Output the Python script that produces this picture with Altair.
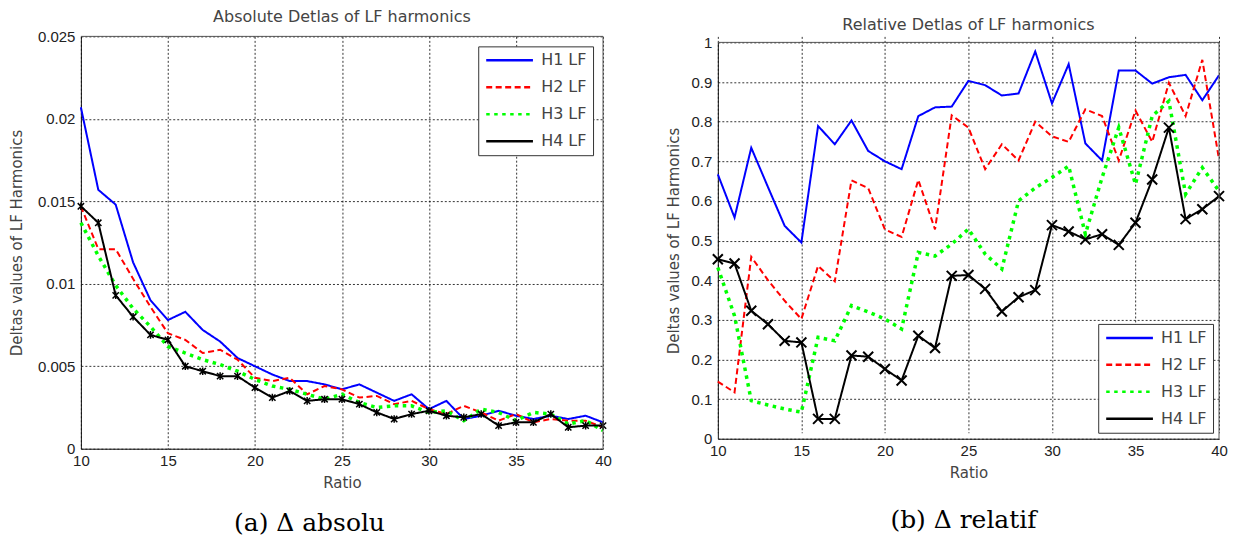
import altair as alt
import pandas as pd

ratio = [10, 11, 12, 13, 14, 15, 16, 17, 18, 19, 20, 21, 22, 23, 24, 25,
         26, 27, 28, 29, 30, 31, 32, 33, 34, 35, 36, 37, 38, 39, 40]
series_names = ["H1 LF", "H2 LF", "H3 LF", "H4 LF"]

abs_h1 = [0.0207, 0.0157, 0.0148, 0.0113, 0.0090, 0.0078, 0.0083, 0.0072, 0.0065, 0.0055,
          0.0050, 0.0045, 0.0041, 0.0041, 0.0039, 0.0036, 0.0039, 0.0034, 0.0029, 0.0033,
          0.0024, 0.0029, 0.0018, 0.0020, 0.0023, 0.0020, 0.0018, 0.0020, 0.0018, 0.0020, 0.0016]
abs_h2 = [0.0147, 0.0121, 0.0121, 0.0103, 0.0086, 0.0070, 0.0066, 0.0058, 0.0060, 0.0054,
          0.0043, 0.0041, 0.0043, 0.0033, 0.0038, 0.0036, 0.0031, 0.0032, 0.0027, 0.0029,
          0.0024, 0.0021, 0.0026, 0.0022, 0.0017, 0.0021, 0.0016, 0.0018, 0.0017, 0.0017, 0.0013]
abs_h3 = [0.0137, 0.0117, 0.0099, 0.0085, 0.0074, 0.0062, 0.0058, 0.0054, 0.0051, 0.0047,
          0.0042, 0.0038, 0.0036, 0.0033, 0.0030, 0.0033, 0.0028, 0.0025, 0.0026, 0.0026,
          0.0022, 0.0023, 0.0017, 0.0024, 0.0022, 0.0017, 0.0022, 0.0021, 0.0015, 0.0017, 0.0011]
abs_h4 = [0.0147, 0.0137, 0.0093, 0.0080, 0.0069, 0.0066, 0.0050, 0.0047, 0.0044, 0.0044,
          0.0037, 0.0031, 0.0035, 0.0029, 0.0030, 0.0030, 0.0027, 0.0022, 0.0018, 0.0021,
          0.0023, 0.0020, 0.0019, 0.0021, 0.0014, 0.0016, 0.0016, 0.0021, 0.0013, 0.0014, 0.0014]

rel_h1 = [0.667, 0.558, 0.734, 0.635, 0.537, 0.495, 0.789, 0.743, 0.803, 0.726,
          0.700, 0.680, 0.814, 0.836, 0.838, 0.903, 0.892, 0.866, 0.871, 0.977,
          0.846, 0.945, 0.745, 0.702, 0.929, 0.929, 0.896, 0.912, 0.918, 0.854, 0.917]
rel_h2 = [0.144, 0.117, 0.459, 0.400, 0.348, 0.302, 0.436, 0.397, 0.652, 0.632,
          0.528, 0.509, 0.653, 0.528, 0.816, 0.785, 0.680, 0.743, 0.702, 0.800,
          0.763, 0.749, 0.831, 0.814, 0.702, 0.828, 0.749, 0.898, 0.814, 0.956, 0.705]
rel_h3 = [0.432, 0.310, 0.096, 0.085, 0.075, 0.067, 0.256, 0.247, 0.336, 0.320,
          0.302, 0.277, 0.470, 0.461, 0.491, 0.529, 0.466, 0.428, 0.600, 0.633,
          0.659, 0.688, 0.516, 0.659, 0.785, 0.642, 0.814, 0.852, 0.617, 0.684, 0.625]
rel_h4 = [0.453, 0.442, 0.323, 0.289, 0.247, 0.243, 0.050, 0.050, 0.210, 0.207,
          0.176, 0.147, 0.260, 0.229, 0.411, 0.413, 0.378, 0.321, 0.357, 0.375,
          0.539, 0.523, 0.503, 0.516, 0.489, 0.545, 0.654, 0.785, 0.554, 0.579, 0.612]

x_ticks = [10, 15, 20, 25, 30, 35, 40]
abs_ticks = [0, 0.005, 0.01, 0.015, 0.02, 0.025]
rel_ticks = [0, 0.1, 0.2, 0.3, 0.4, 0.5, 0.6, 0.7, 0.8, 0.9, 1]

line_colors = ["#0000ff", "#ff0000", "#00ff00", "#000000"]
line_dashes = [[1, 0], [6, 3.5], [3.5, 4.5], [1, 0]]

TITLE_FONT = "DejaVu Sans"
NUM_FONT = "Liberation Sans"

# marker shapes (unit-box SVG paths)
STAR = "M-1,-1L1,1M-1,1L1,-1M0,-1.2L0,1.2"
XMARK = "M-1,-1L1,1M-1,1L1,-1"
LEG_SYMBOL = "M-1,0L6.8,0"


def to_long(cols):
    rows = []
    for name, vals in zip(series_names, cols):
        for r, v in zip(ratio, vals):
            rows.append({"ratio": r, "value": v, "series": name})
    return pd.DataFrame(rows)


def panel(df, title_text, title_offset, y_ticks, y_dom, width, height, y_range,
          legend_orient, legend_offset, marker_path, marker_size, marker_width,
          caption, cap_x, cap_y, y_title_pad, y_label_pad):
    xscale = alt.Scale(domain=[10, 40], nice=False, zero=False)
    yscale = alt.Scale(domain=y_dom, nice=False, zero=False, range=y_range)
    xaxis = alt.Axis(title="Ratio", values=x_ticks, format="d", labelFlush=False,
                     labelPadding=5, titlePadding=7)
    yaxis = alt.Axis(title="Deltas values of LF Harmonics", values=y_ticks,
                     format="~g", labelFlush=False,
                     labelPadding=y_label_pad, titlePadding=y_title_pad)
    legend = alt.Legend(title=None, orient=legend_orient, offset=legend_offset)

    lines = alt.Chart(df).mark_line(strokeJoin="miter", strokeCap="butt").encode(
        x=alt.X("ratio:Q", scale=xscale, axis=xaxis),
        y=alt.Y("value:Q", scale=yscale, axis=yaxis),
        color=alt.Color("series:N",
                        scale=alt.Scale(domain=series_names, range=line_colors),
                        legend=legend),
        strokeDash=alt.StrokeDash("series:N",
                                  scale=alt.Scale(domain=series_names, range=line_dashes),
                                  legend=legend),
        strokeWidth=alt.condition("datum.series == 'H3 LF'", alt.value(3.5), alt.value(2)),
    )
    markers = alt.Chart(df).transform_filter("datum.series == 'H4 LF'").mark_point(
        shape=marker_path, size=marker_size, filled=False, color="#000000",
        strokeWidth=marker_width, opacity=1
    ).encode(
        x=alt.X("ratio:Q", scale=xscale),
        y=alt.Y("value:Q", scale=yscale),
    )
    one = pd.DataFrame({"k": [0]})
    top_rule = alt.Chart(one).mark_rule(color="#555555", strokeWidth=1).encode(
        y=alt.datum(y_dom[1])
    )
    right_rule = alt.Chart(one).mark_rule(color="#555555", strokeWidth=1).encode(
        x=alt.datum(40), y=alt.datum(y_dom[0]), y2=alt.datum(y_dom[1])
    )
    cap = alt.Chart(pd.DataFrame({"c": [caption]})).mark_text(
        font="DejaVu Serif", fontSize=25, color="#000000",
        align="center", baseline="middle"
    ).encode(text="c:N", x=alt.value(cap_x), y=alt.value(cap_y))

    return alt.layer(lines, markers, top_rule, right_rule, cap).properties(
        width=width, height=height,
        title=alt.TitleParams(text=title_text, font=TITLE_FONT, fontSize=16,
                              fontWeight="normal", color="#444444",
                              offset=title_offset, baseline="bottom", anchor="middle"),
    )


left = panel(to_long([abs_h1, abs_h2, abs_h3, abs_h4]),
             "Absolute Detlas of LF harmonics", -11.5, abs_ticks, [0, 0.025],
             523, 413, [413, 0], "top-right", 10, STAR, 40, 1.5,
             "(a) \u0394 absolu", 229, 487, 13, 6)
right = panel(to_long([rel_h1, rel_h2, rel_h3, rel_h4]),
              "Relative Detlas of LF harmonics", -14, rel_ticks, [0, 1],
              502, 403, [403, 6], "bottom-right", 6, XMARK, 100, 2,
              "(b) \u0394 relatif", 246, 484, 10, 6)

chart = alt.hconcat(left, right, spacing=115, bounds="flush").resolve_scale(
    x="independent", y="independent", color="independent", strokeDash="independent"
).resolve_legend(
    color="independent", strokeDash="independent"
).properties(
    padding={"left": 0, "top": 0, "right": 0, "bottom": -1.5}
).configure_view(
    stroke="transparent"
).configure_axis(
    domainColor="#111111", domainWidth=1,
    gridColor="#000000", gridDash=[2, 2], gridOpacity=0.8, gridWidth=1,
    ticks=False,
    labelFont=NUM_FONT, labelFontSize=15, labelColor="#222222",
    titleFont=TITLE_FONT, titleFontSize=15, titleColor="#444444",
    titleFontWeight="normal",
).configure_legend(
    padding=6, strokeColor="#333333", fillColor="#ffffff",
    labelFont=TITLE_FONT, labelFontSize=16, labelColor="#444444",
    symbolType=LEG_SYMBOL, symbolSize=144, symbolStrokeWidth=2.5,
    rowPadding=11, labelOffset=41,
)

chart.save("out.html", embed_options={"renderer": "svg", "actions": False})
